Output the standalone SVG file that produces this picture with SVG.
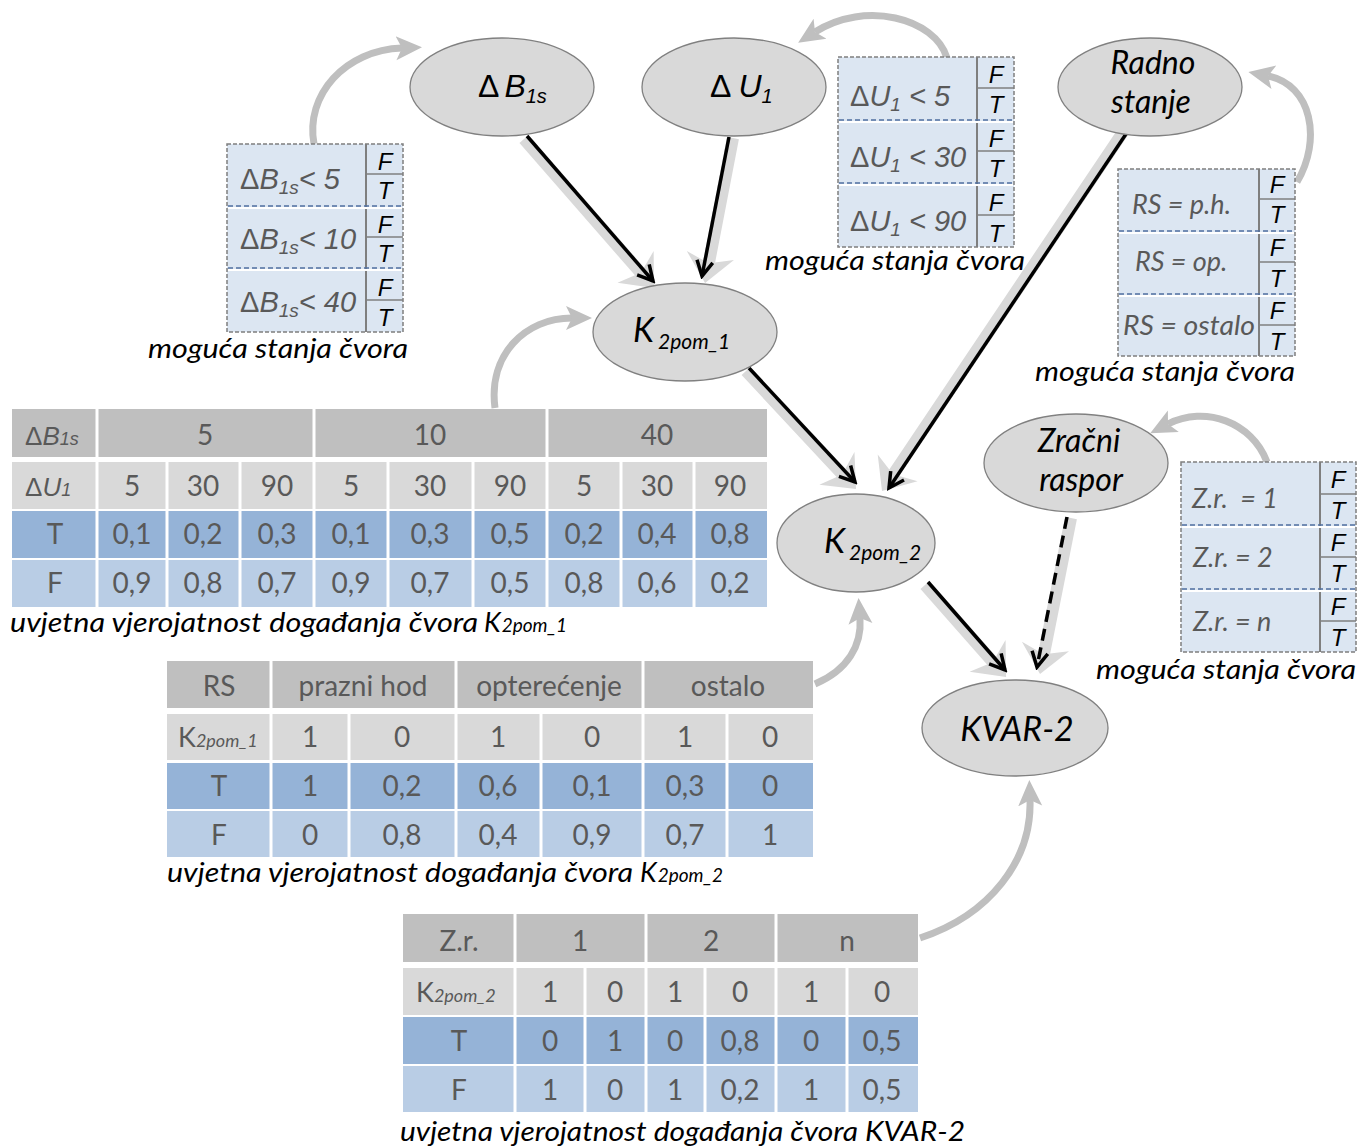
<svg xmlns="http://www.w3.org/2000/svg" width="1371" height="1148" viewBox="0 0 1371 1148">
<defs>
<style>
text{font-family:Lato,"Liberation Sans",sans-serif}
.node ellipse{fill:#d9d9d9;stroke:#808080;stroke-width:1.3}
.nl{font-style:italic;fill:#000;font-size:34px}
.nl2{font-style:italic;fill:#000;font-size:32px}
.ar{font-family:"Liberation Sans",Arial,sans-serif;fill:#000}
.it{font-style:italic}
.stb{fill:#dce6f2;stroke:#7f7f7f;stroke-width:1.5;stroke-dasharray:4 2}
.vl{stroke:#7f7f7f;stroke-width:2}
.ftl{stroke:#7f7f7f;stroke-width:1.5}
.dw{stroke:#fff;stroke-width:2}
.dv{stroke:#4f6fa0;stroke-width:1.6;stroke-dasharray:5 3}
.ft{font-family:"Liberation Sans",Arial,sans-serif;font-style:italic;font-size:24px;fill:#000;text-anchor:middle}
.sx{font-family:"Liberation Sans",Arial,sans-serif;font-size:29px;fill:#595959}
.rx{font-style:italic;font-size:27px;fill:#595959}
.cap{font-style:italic;font-size:27px;fill:#000}
.h1{fill:#bfbfbf}.h2{fill:#d9d9d9}.rt{fill:#95b3d7}.rf{fill:#b9cde5}
.sep{stroke:#fff;stroke-width:3}
.tt{font-size:28px;fill:#595959;text-anchor:middle}
.tl{font-family:"Liberation Sans",Arial,sans-serif;font-size:26px;fill:#595959}
.kl{font-size:27px;fill:#595959}
.shadow{fill:#d9d9d9}
.edge{stroke:#000;stroke-width:3.5;fill:none;marker-end:url(#ah)}
.dash{stroke-dasharray:12 7}
.curve{fill:none;stroke:#bfbfbf;stroke-width:7;marker-end:url(#ch)}
</style>
<marker id="ah" markerWidth="22" markerHeight="22" refX="19" refY="11" orient="auto" markerUnits="userSpaceOnUse"><path d="M4,3 L19,11 L4,19" fill="none" stroke="#000" stroke-width="3.5"/></marker>
<marker id="ch" markerWidth="30" markerHeight="30" refX="6" refY="15" orient="auto" markerUnits="userSpaceOnUse"><path d="M0,3 L26,15 L0,27 L6,15 z" fill="#bfbfbf"/></marker>
</defs>
<rect width="1371" height="1148" fill="#fff"/>

<g id="curves">
<path class="curve" d="M314,144 C305,95 345,50 402,48"/>
<path class="curve" d="M947,58 C935,18 865,0 815,32"/>
<path class="curve" d="M1297,182 C1322,140 1312,85 1268,76"/>
<path class="curve" d="M495,408 C488,355 525,318 572,318"/>
<path class="curve" d="M815,684 C848,670 862,645 860,618"/>
<path class="curve" d="M1267,462 C1252,422 1205,405 1168,424"/>
<path class="curve" d="M920,938 C990,915 1032,860 1030,800"/>
</g>

<g id="states-dB1s">
<rect class="stb" x="227" y="144" width="176" height="188"/>
<line class="vl" x1="366" y1="144" x2="366" y2="332"/>
<line class="ftl" x1="366" y1="174" x2="403" y2="174"/>
<line class="ftl" x1="366" y1="237" x2="403" y2="237"/>
<line class="ftl" x1="366" y1="300" x2="403" y2="300"/>
<line class="dw" x1="228" y1="208" x2="402" y2="208"/><line class="dv" x1="228" y1="206" x2="402" y2="206"/>
<line class="dw" x1="228" y1="270" x2="402" y2="270"/><line class="dv" x1="228" y1="268" x2="402" y2="268"/>
<text class="sx" x="240" y="189">Δ<tspan class="it">B</tspan><tspan class="it" font-size="19" dy="5">1s</tspan><tspan class="it" dy="-5">&lt; 5</tspan></text>
<text class="sx" x="240" y="249">Δ<tspan class="it">B</tspan><tspan class="it" font-size="19" dy="5">1s</tspan><tspan class="it" dy="-5">&lt; 10</tspan></text>
<text class="sx" x="240" y="312">Δ<tspan class="it">B</tspan><tspan class="it" font-size="19" dy="5">1s</tspan><tspan class="it" dy="-5">&lt; 40</tspan></text>
<text class="ft" x="385" y="170">F</text><text class="ft" x="385" y="199">T</text>
<text class="ft" x="385" y="233">F</text><text class="ft" x="385" y="262">T</text>
<text class="ft" x="385" y="296">F</text><text class="ft" x="385" y="326">T</text>
<text class="cap" x="148" y="358" textLength="260" lengthAdjust="spacingAndGlyphs">moguća stanja čvora</text>
</g>

<g id="states-dU1">
<rect class="stb" x="838" y="57" width="176" height="190"/>
<line class="vl" x1="977" y1="57" x2="977" y2="247"/>
<line class="ftl" x1="977" y1="88" x2="1014" y2="88"/>
<line class="ftl" x1="977" y1="151" x2="1014" y2="151"/>
<line class="ftl" x1="977" y1="215" x2="1014" y2="215"/>
<line class="dw" x1="839" y1="122" x2="1013" y2="122"/><line class="dv" x1="839" y1="120" x2="1013" y2="120"/>
<line class="dw" x1="839" y1="185" x2="1013" y2="185"/><line class="dv" x1="839" y1="183" x2="1013" y2="183"/>
<text class="sx" x="850" y="106">Δ<tspan class="it">U</tspan><tspan class="it" font-size="19" dy="5">1</tspan><tspan class="it" dy="-5"> &lt; 5</tspan></text>
<text class="sx" x="850" y="167">Δ<tspan class="it">U</tspan><tspan class="it" font-size="19" dy="5">1</tspan><tspan class="it" dy="-5"> &lt; 30</tspan></text>
<text class="sx" x="850" y="231">Δ<tspan class="it">U</tspan><tspan class="it" font-size="19" dy="5">1</tspan><tspan class="it" dy="-5"> &lt; 90</tspan></text>
<text class="ft" x="996" y="83">F</text><text class="ft" x="996" y="113">T</text>
<text class="ft" x="996" y="147">F</text><text class="ft" x="996" y="177">T</text>
<text class="ft" x="996" y="211">F</text><text class="ft" x="996" y="242">T</text>
<text class="cap" x="765" y="270" textLength="260" lengthAdjust="spacingAndGlyphs">moguća stanja čvora</text>
</g>

<g id="states-rs">
<rect class="stb" x="1118" y="169" width="177" height="187"/>
<line class="vl" x1="1259" y1="169" x2="1259" y2="356"/>
<line class="ftl" x1="1259" y1="199" x2="1295" y2="199"/>
<line class="ftl" x1="1259" y1="262" x2="1295" y2="262"/>
<line class="ftl" x1="1259" y1="325" x2="1295" y2="325"/>
<line class="dw" x1="1119" y1="233" x2="1294" y2="233"/><line class="dv" x1="1119" y1="231" x2="1294" y2="231"/>
<line class="dw" x1="1119" y1="296" x2="1294" y2="296"/><line class="dv" x1="1119" y1="294" x2="1294" y2="294"/>
<text class="rx" x="1132" y="214">RS = p.h.</text>
<text class="rx" x="1135" y="271">RS = op.</text>
<text class="rx" x="1123" y="335" textLength="132" lengthAdjust="spacingAndGlyphs">RS = ostalo</text>
<text class="ft" x="1277" y="193">F</text><text class="ft" x="1277" y="223">T</text>
<text class="ft" x="1277" y="256">F</text><text class="ft" x="1277" y="287">T</text>
<text class="ft" x="1277" y="319">F</text><text class="ft" x="1277" y="350">T</text>
<text class="cap" x="1035" y="381" textLength="260" lengthAdjust="spacingAndGlyphs">moguća stanja čvora</text>
</g>

<g id="states-zr">
<rect class="stb" x="1181" y="462" width="175" height="190"/>
<line class="vl" x1="1320" y1="462" x2="1320" y2="652"/>
<line class="ftl" x1="1320" y1="494" x2="1356" y2="494"/>
<line class="ftl" x1="1320" y1="557" x2="1356" y2="557"/>
<line class="ftl" x1="1320" y1="621" x2="1356" y2="621"/>
<line class="dw" x1="1182" y1="527" x2="1355" y2="527"/><line class="dv" x1="1182" y1="525" x2="1355" y2="525"/>
<line class="dw" x1="1182" y1="591" x2="1355" y2="591"/><line class="dv" x1="1182" y1="589" x2="1355" y2="589"/>
<text class="rx" x="1192" y="508" font-size="26" xml:space="preserve">Z.r.  = 1</text>
<text class="rx" x="1193" y="567" font-size="26">Z.r. = 2</text>
<text class="rx" x="1193" y="631" font-size="26">Z.r. = n</text>
<text class="ft" x="1338" y="488">F</text><text class="ft" x="1338" y="519">T</text>
<text class="ft" x="1338" y="551">F</text><text class="ft" x="1338" y="582">T</text>
<text class="ft" x="1338" y="615">F</text><text class="ft" x="1338" y="646">T</text>
<text class="cap" x="1096" y="679" textLength="260" lengthAdjust="spacingAndGlyphs">moguća stanja čvora</text>
</g>

<g id="cpt-k2pom1">
<rect class="h1" x="12" y="409" width="755" height="48"/>
<rect class="h2" x="12" y="462" width="755" height="47"/>
<rect class="rt" x="12" y="511" width="755" height="47"/>
<rect class="rf" x="12" y="560" width="755" height="47"/>
<line class="sep" x1="97" y1="409" x2="97" y2="457"/><line class="sep" x1="314" y1="409" x2="314" y2="457"/><line class="sep" x1="547" y1="409" x2="547" y2="457"/>
<g class="sep">
<line x1="97" y1="462" x2="97" y2="607"/><line x1="167" y1="462" x2="167" y2="607"/><line x1="240" y1="462" x2="240" y2="607"/><line x1="314" y1="462" x2="314" y2="607"/><line x1="388" y1="462" x2="388" y2="607"/><line x1="473" y1="462" x2="473" y2="607"/><line x1="547" y1="462" x2="547" y2="607"/><line x1="621" y1="462" x2="621" y2="607"/><line x1="694" y1="462" x2="694" y2="607"/>
</g>
<text class="tl" x="25" y="445">Δ<tspan class="it">B</tspan><tspan class="it" font-size="18">1s</tspan></text>
<text class="tt" x="205" y="445">5</text><text class="tt" x="430" y="445">10</text><text class="tt" x="657" y="445">40</text>
<text class="tl" x="25" y="496">Δ<tspan class="it">U</tspan><tspan class="it" font-size="18">1</tspan></text>
<text class="tt" y="496"><tspan x="132">5</tspan><tspan x="203">30</tspan><tspan x="277">90</tspan><tspan x="351">5</tspan><tspan x="430">30</tspan><tspan x="510">90</tspan><tspan x="584">5</tspan><tspan x="657">30</tspan><tspan x="730">90</tspan></text>
<text class="tt" y="544"><tspan x="55">T</tspan><tspan x="132">0,1</tspan><tspan x="203">0,2</tspan><tspan x="277">0,3</tspan><tspan x="351">0,1</tspan><tspan x="430">0,3</tspan><tspan x="510">0,5</tspan><tspan x="584">0,2</tspan><tspan x="657">0,4</tspan><tspan x="730">0,8</tspan></text>
<text class="tt" y="593"><tspan x="55">F</tspan><tspan x="132">0,9</tspan><tspan x="203">0,8</tspan><tspan x="277">0,7</tspan><tspan x="351">0,9</tspan><tspan x="430">0,7</tspan><tspan x="510">0,5</tspan><tspan x="584">0,8</tspan><tspan x="657">0,6</tspan><tspan x="730">0,2</tspan></text>
<text class="cap" x="10" y="632" textLength="468" lengthAdjust="spacingAndGlyphs">uvjetna vjerojatnost događanja čvora</text>
<text class="cap" x="484" y="632">K<tspan font-size="19" dx="1">2pom_1</tspan></text>
</g>

<g id="cpt-k2pom2">
<rect class="h1" x="167" y="661" width="646" height="47"/>
<rect class="h2" x="167" y="714" width="646" height="46"/>
<rect class="rt" x="167" y="763" width="646" height="46"/>
<rect class="rf" x="167" y="811" width="646" height="46"/>
<line class="sep" x1="271" y1="661" x2="271" y2="708"/><line class="sep" x1="456" y1="661" x2="456" y2="708"/><line class="sep" x1="643" y1="661" x2="643" y2="708"/>
<g class="sep">
<line x1="271" y1="714" x2="271" y2="857"/><line x1="349" y1="714" x2="349" y2="857"/><line x1="456" y1="714" x2="456" y2="857"/><line x1="541" y1="714" x2="541" y2="857"/><line x1="643" y1="714" x2="643" y2="857"/><line x1="727" y1="714" x2="727" y2="857"/>
</g>
<text class="tt" y="696"><tspan x="219">RS</tspan><tspan x="363">prazni hod</tspan><tspan x="549">opterećenje</tspan><tspan x="728">ostalo</tspan></text>
<text class="kl" x="178" y="747">K<tspan class="it" font-size="18">2pom_1</tspan></text>
<text class="tt" y="747"><tspan x="310">1</tspan><tspan x="402">0</tspan><tspan x="498">1</tspan><tspan x="592">0</tspan><tspan x="685">1</tspan><tspan x="770">0</tspan></text>
<text class="tt" y="796"><tspan x="219">T</tspan><tspan x="310">1</tspan><tspan x="402">0,2</tspan><tspan x="498">0,6</tspan><tspan x="592">0,1</tspan><tspan x="685">0,3</tspan><tspan x="770">0</tspan></text>
<text class="tt" y="845"><tspan x="219">F</tspan><tspan x="310">0</tspan><tspan x="402">0,8</tspan><tspan x="498">0,4</tspan><tspan x="592">0,9</tspan><tspan x="685">0,7</tspan><tspan x="770">1</tspan></text>
<text class="cap" x="167" y="882" textLength="466" lengthAdjust="spacingAndGlyphs">uvjetna vjerojatnost događanja čvora</text>
<text class="cap" x="640" y="882">K<tspan font-size="19" dx="1">2pom_2</tspan></text>
</g>

<g id="cpt-kvar2">
<rect class="h1" x="403" y="914" width="515" height="48"/>
<rect class="h2" x="403" y="968" width="515" height="47"/>
<rect class="rt" x="403" y="1017" width="515" height="47"/>
<rect class="rf" x="403" y="1066" width="515" height="46"/>
<line class="sep" x1="515" y1="914" x2="515" y2="962"/><line class="sep" x1="646" y1="914" x2="646" y2="962"/><line class="sep" x1="776" y1="914" x2="776" y2="962"/>
<g class="sep">
<line x1="515" y1="968" x2="515" y2="1112"/><line x1="585" y1="968" x2="585" y2="1112"/><line x1="646" y1="968" x2="646" y2="1112"/><line x1="705" y1="968" x2="705" y2="1112"/><line x1="776" y1="968" x2="776" y2="1112"/><line x1="847" y1="968" x2="847" y2="1112"/>
</g>
<text class="tt" y="951"><tspan x="459">Z.r.</tspan><tspan x="580">1</tspan><tspan x="711">2</tspan><tspan x="847">n</tspan></text>
<text class="kl" x="416" y="1002">K<tspan class="it" font-size="18">2pom_2</tspan></text>
<text class="tt" y="1002"><tspan x="550">1</tspan><tspan x="615">0</tspan><tspan x="675">1</tspan><tspan x="740">0</tspan><tspan x="811">1</tspan><tspan x="882">0</tspan></text>
<text class="tt" y="1051"><tspan x="459">T</tspan><tspan x="550">0</tspan><tspan x="615">1</tspan><tspan x="675">0</tspan><tspan x="740">0,8</tspan><tspan x="811">0</tspan><tspan x="882">0,5</tspan></text>
<text class="tt" y="1100"><tspan x="459">F</tspan><tspan x="550">1</tspan><tspan x="615">0</tspan><tspan x="675">1</tspan><tspan x="740">0,2</tspan><tspan x="811">1</tspan><tspan x="882">0,5</tspan></text>
<text class="cap" x="400" y="1141" textLength="565" lengthAdjust="spacingAndGlyphs">uvjetna vjerojatnost događanja čvora KVAR-2</text>
</g>

<g id="connectors">
<path class="shadow" transform="translate(524,139) rotate(48.9)" d="M0,-6 H175.7 L169.7,-24 L197.7,0 L169.7,24 L175.7,6 H0 Z"/>
<path class="shadow" transform="translate(733,138) rotate(100.9)" d="M0,-6 H125.7 L119.7,-24 L147.7,0 L119.7,24 L125.7,6 H0 Z"/>
<path class="shadow" transform="translate(1123,132) rotate(123.87)" d="M0,-6 H410.4 L404.4,-24 L432.4,0 L404.4,24 L410.4,6 H0 Z"/>
<path class="shadow" transform="translate(746,371) rotate(47)" d="M0,-6 H139.3 L133.3,-24 L161.3,0 L133.3,24 L139.3,6 H0 Z"/>
<path class="shadow" transform="translate(925,585) rotate(48.6)" d="M0,-6 H100.6 L94.6,-24 L122.6,0 L94.6,24 L100.6,6 H0 Z"/>
<path class="shadow" transform="translate(1071,518) rotate(101.24)" d="M0,-6 H137 L131,-24 L159,0 L131,24 L137,6 H0 Z"/>
<path class="edge" d="M527,136 L653,281"/>
<path class="edge" d="M729,137 L702,276"/>
<path class="edge" d="M1126,134 L889,488"/>
<path class="edge" d="M749,368 L855,482"/>
<path class="edge" d="M928,582 L1005,670"/>
<path class="edge dash" d="M1067,517 L1037,667"/>
</g>

<g id="n-dB1s" class="node">
<ellipse cx="502" cy="87" rx="92" ry="49"/>
<text class="ar" font-size="32" x="478" y="97">Δ<tspan class="it" dx="5">B</tspan><tspan class="it" font-size="20" dy="6">1s</tspan></text>
</g>
<g id="n-dU1" class="node">
<ellipse cx="734" cy="87" rx="92" ry="49"/>
<text class="ar" font-size="32" x="710" y="97">Δ<tspan class="it" dx="7">U</tspan><tspan class="it" font-size="20" dy="6">1</tspan></text>
</g>
<g id="n-rs" class="node">
<ellipse cx="1150" cy="87" rx="92" ry="49"/>
<text class="nl2" x="1153" y="73.5" text-anchor="middle">Radno</text>
<text class="nl2" x="1151" y="112.5" text-anchor="middle">stanje</text>
</g>
<g id="n-k2pom1" class="node">
<ellipse cx="685" cy="332" rx="92" ry="49"/>
<text class="nl" x="633" y="342">K<tspan font-size="21" dx="4" dy="7">2pom_1</tspan></text>
</g>
<g id="n-k2pom2" class="node">
<ellipse cx="856" cy="543" rx="79" ry="49"/>
<text class="nl" x="824" y="553">K<tspan font-size="21" dx="4" dy="7">2pom_2</tspan></text>
</g>
<g id="n-zr" class="node">
<ellipse cx="1076" cy="463" rx="92" ry="49"/>
<text class="nl2" x="1079" y="452" text-anchor="middle">Zračni</text>
<text class="nl2" x="1081" y="491" text-anchor="middle">raspor</text>
</g>
<g id="n-kvar2" class="node">
<ellipse cx="1015" cy="728" rx="93" ry="48"/>
<text class="nl" x="1017" y="741" text-anchor="middle">KVAR-2</text>
</g>
</svg>
